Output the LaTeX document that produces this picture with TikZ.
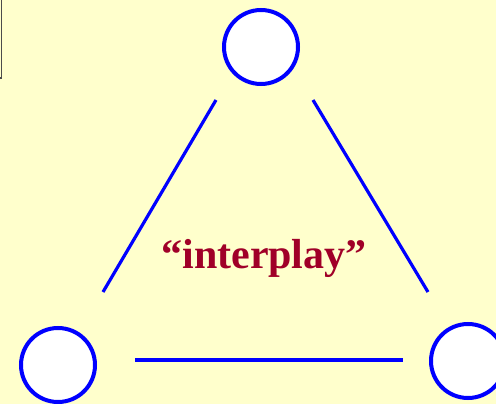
\documentclass[tikz,border=0pt]{standalone}
\usepackage{fontspec}
\setmainfont{Liberation Serif}
\definecolor{bgyellow}{HTML}{FFFFCC}
\definecolor{nodeblue}{HTML}{0000FF}
\definecolor{txtred}{HTML}{A00028}
\begin{document}
\begin{tikzpicture}[x=1pt,y=-1pt,
  vert/.style={circle,draw=nodeblue,fill=white,line width=4pt,minimum size=74pt,inner sep=0pt},
  edge/.style={draw=nodeblue,line width=3.2pt}]
\fill[bgyellow] (0,0) rectangle (496,404);
\useasboundingbox (0,0) rectangle (496,404);
\draw[gray!60!black,line width=1.5pt] (1.5,0) -- (1.5,78) -- (-1,78);
\node[vert] (top) at (261,47) {};
\node[vert] (bl) at (58,365) {};
\node[vert] (br) at (468,361) {};
\coordinate (l1) at (216,100); \coordinate (l2) at (103,292);
\coordinate (r1) at (313,100); \coordinate (r2) at (428,292);
\coordinate (b1) at (135,360); \coordinate (b2) at (403,360);
\draw[edge] (l1) -- (l2);
\draw[edge] (r1) -- (r2);
\draw[edge] (b1) -- (b2);
\node[anchor=base,text=txtred,font=\bfseries\fontsize{42}{46}\selectfont,inner sep=0pt] (lbl) at (264,268) {“interplay”};
\end{tikzpicture}
\end{document}
